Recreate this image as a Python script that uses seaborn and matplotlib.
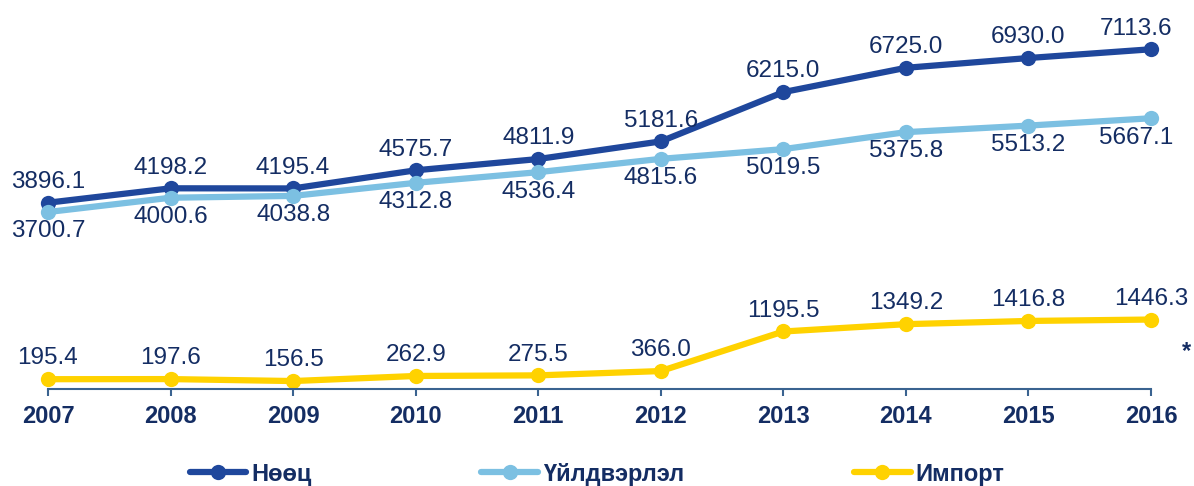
import pandas as pd
import seaborn as sns
import matplotlib.pyplot as plt

# data
years = [2007, 2008, 2009, 2010, 2011, 2012, 2013, 2014, 2015, 2016]
reserve = [3896.1, 4198.2, 4195.4, 4575.7, 4811.9, 5181.6, 6215.0, 6725.0, 6930.0, 7113.6]
production = [3700.7, 4000.6, 4038.8, 4312.8, 4536.4, 4815.6, 5019.5, 5375.8, 5513.2, 5667.1]
imports = [195.4, 197.6, 156.5, 262.9, 275.5, 366.0, 1195.5, 1349.2, 1416.8, 1446.3]
series_names = ["Нөөц", "Үйлдвэрлэл", "Импорт"]

textcolor = "#142D63"
axiscolor = "#3A6390"
colors = ["#1F479C", "#7CC0E2", "#FFD200"]

df = pd.concat([
    pd.DataFrame({"year": years, "value": vals, "series": name})
    for name, vals in zip(series_names, [reserve, production, imports])
])

sns.set_theme(style="white")
plt.rcParams["font.family"] = ["Liberation Sans", "DejaVu Sans"]

fig = plt.figure(figsize=(11.94, 4.86), dpi=100)
ax = fig.add_axes([0.0402, 0.2006, 0.9238, 0.785])

sns.lineplot(data=df, x="year", y="value", hue="series", hue_order=series_names,
             palette=colors, marker="o", markersize=11, markeredgewidth=0,
             linewidth=4.5, ax=ax, legend=False)
for ln in ax.lines:
    ln.set_clip_on(False)

# value labels
for vals, below in [(reserve, False), (production, True), (imports, False)]:
    for x, v in zip(years, vals):
        dx = -11 if (x == years[-1] and vals is not imports) else 0
        ax.annotate(f"{v:.1f}", (x, v), xytext=(dx, -6 if below else 7),
                    textcoords="offset points", ha="center",
                    va="top" if below else "bottom", fontsize=17.5, color=textcolor)

ax.set_xlim(2007, 2016)
ax.set_ylim(0, 8000)
ax.set_xticks(years)
ax.set_xticklabels([str(y) for y in years], fontsize=17, fontweight="bold", color=textcolor)
ax.set_yticks([])
ax.set_xlabel("")
ax.set_ylabel("")
for s in ["top", "left", "right"]:
    ax.spines[s].set_visible(False)
ax.spines["bottom"].set_color(axiscolor)
ax.spines["bottom"].set_linewidth(1.5)
ax.tick_params(axis="x", bottom=True, direction="out", length=5, width=1.5,
               color=axiscolor, pad=7)

fig.text(1187 / 1194, 1 - 352 / 486, "*", ha="center", va="center",
         fontsize=17, fontweight="bold", color=textcolor)

leg = fig.legend(handles=ax.lines[:3], labels=series_names, loc="center",
                 bbox_to_anchor=(0.5, 1 - 474 / 486), ncol=3, frameon=False,
                 handlelength=2.4, handletextpad=0.2, columnspacing=7.2,
                 prop={"size": 17, "weight": "bold"})
for t in leg.get_texts():
    t.set_color(textcolor)

fig.savefig("out.png", dpi=100)
